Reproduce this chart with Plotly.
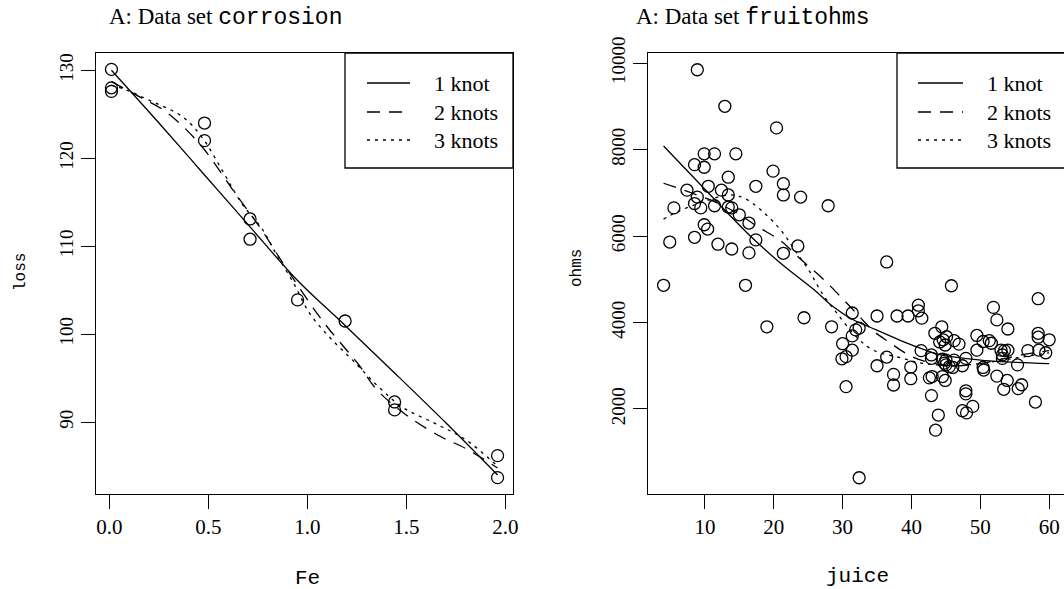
import plotly.graph_objects as go

# ---------------- data: corrosion ----------------
fe = [0.01, 0.48, 0.71, 0.95, 1.19, 0.01, 0.48, 1.44, 0.71, 1.96, 0.01, 1.44, 1.96]
loss = [127.6, 124.0, 110.8, 103.9, 101.5, 130.1, 122.0, 92.3, 113.1, 83.7, 128.0, 91.4, 86.2]

c_fit1_x = [0.01, 0.25, 0.48, 0.71, 0.95, 1.19, 1.44, 1.70, 1.96]
c_fit1_y = [130.0, 124.0, 118.1, 112.2, 106.1, 101.0, 95.6, 89.9, 84.0]
c_fit2_x = [0.01, 0.15, 0.29, 0.46, 0.62, 0.77, 0.89, 1.08, 1.26, 1.35, 1.50, 1.67, 1.80, 1.96]
c_fit2_y = [128.7, 127.0, 125.2, 121.5, 116.5, 111.8, 107.6, 101.4, 96.5, 93.7, 90.8, 88.4, 87.0, 84.8]
c_fit3_x = [0.01, 0.08, 0.20, 0.37, 0.47, 0.57, 0.67, 0.77, 0.84, 0.93, 1.01, 1.11, 1.23, 1.36, 1.48, 1.65, 1.80, 1.96]
c_fit3_y = [128.3, 127.8, 126.6, 124.7, 122.3, 118.6, 114.8, 112.0, 109.2, 105.8, 102.4, 99.7, 97.0, 94.0, 91.7, 89.8, 88.0, 85.0]

# ---------------- data: fruitohms ----------------
juice = [8.9, 12.9, 20.4, 9.9, 11.4, 14.5, 8.5, 9.9, 19.9, 13.4,
         21.4, 10.5, 17.4, 7.4, 12.4, 13.4, 21.4, 23.9, 8.9, 8.5,
         5.5, 9.4, 11.4, 13.4, 13.9, 27.9, 15.0, 16.4, 9.9, 10.4,
         8.5, 4.9, 11.9, 17.4, 23.5, 13.9, 16.4, 21.4, 4.0, 15.9,
         24.4, 19.0, 28.4, 31.4, 31.9, 32.4, 31.4, 30.0, 31.4, 29.9,
         30.5, 30.5, 32.4, 35.0, 35.0, 36.4, 36.4, 37.4, 37.4, 37.9,
         39.5, 39.9, 39.9, 41.0, 41.0, 41.5, 41.4, 42.6, 43.0, 42.9,
         42.9, 42.9, 43.9, 43.5, 43.4, 44.4, 44.1, 44.6, 44.9, 45.1,
         44.5, 45.0, 44.5, 44.9, 45.8, 45.5, 46.2, 46.0, 46.2, 46.9,
         47.9, 47.4, 47.9, 47.9, 47.4, 48.0, 48.9, 49.5, 49.5, 50.4,
         50.4, 50.5, 51.3, 51.6, 51.9, 52.4, 52.4, 53.0, 53.2, 53.2,
         53.5, 54.0, 54.0, 53.4, 53.9, 55.4, 55.5, 56.0, 56.9, 58.0,
         58.4, 58.4, 58.4, 58.5, 59.5, 60.0, 45.0, 44.8]
ohms = [9845, 9000, 8500, 7900, 7900, 7900, 7650, 7590, 7500, 7360,
        7210, 7150, 7150, 7060, 7060, 6950, 6950, 6900, 6900, 6750,
        6650, 6650, 6700, 6670, 6650, 6700, 6490, 6300, 6260, 6160,
        5970, 5860, 5810, 5910, 5770, 5700, 5610, 5600, 4860, 4860,
        4110, 3900, 3900, 4220, 3830, 3870, 3690, 3510, 3360, 3160,
        3210, 2516, 410, 4150, 3000, 3200, 5400, 2800, 2555, 4150,
        4150, 2970, 2700, 4400, 4270, 4100, 3350, 2720, 2750, 3250,
        3170, 2310, 1860, 1510, 3750, 3900, 3550, 3600, 3480, 3670,
        3150, 3020, 2750, 2660, 4850, 2980, 3130, 2960, 3580, 3500,
        3170, 3000, 2420, 2350, 1960, 1910, 2060, 3700, 3360, 3560,
        2960, 2900, 3580, 3520, 4350, 4060, 2760, 3360, 3250, 3170,
        3350, 3360, 3850, 2455, 2660, 3020, 2470, 2560, 3350, 2160,
        4550, 3750, 3660, 3360, 3300, 3600, 3130, 3060]

f_fit1_x = [4, 10, 16.6, 21, 25.9, 28.5, 31.4, 34.9, 40.7, 44.3, 50, 53.7, 60]
f_fit1_y = [8080, 7080, 6000, 5370, 4750, 4380, 4075, 3830, 3440, 3250, 3130, 3090, 3050]
f_fit2_x = [4, 8, 12, 15, 17.6, 21, 24, 27, 30, 32.5, 34.5, 36.8, 39.6, 42, 46, 50, 53, 56, 60]
f_fit2_y = [7220, 7000, 6750, 6500, 6220, 5890, 5450, 5030, 4550, 4130, 3800, 3540, 3250, 3100, 3000, 3050, 3150, 3250, 3350]
f_fit3_x = [4, 6, 9.2, 13.6, 15.8, 18.5, 21.2, 23.3, 25.2, 27, 29, 32, 34.4, 38.7, 41.6, 46, 50, 54, 58, 60]
f_fit3_y = [6390, 6560, 6760, 6950, 6870, 6550, 6100, 5620, 5180, 4680, 4250, 3670, 3364, 3172, 3057, 3000, 3050, 3150, 3250, 3300]

legend_labels = ["1 knot", "2 knots", "3 knots"]
corr_ticks = [0, 0.5, 1.0, 1.5, 2.0]
corr_ticktext = ["0.0", "0.5", "1.0", "1.5", "2.0"]
loss_ticks = [90, 100, 110, 120, 130]
juice_ticks = [10, 20, 30, 40, 50, 60]
ohms_ticks = [2000, 4000, 6000, 8000, 10000]
ohms_ticktext = ["2000", "4000", "6000", "8000", "10000"]

# ---------------- figure ----------------
W, H = 1064, 589
SERIF = "Liberation Serif"
MONO = "Liberation Mono"
LW = 1.3
DASHES = ["solid", "13px,9px", "3px,5px"]


def X(px):
    return px / W


def Y(py):
    return 1 - py / H


fig = go.Figure()

marker = dict(symbol="circle-open", size=12, color="black", line=dict(width=LW, color="black"))
fig.add_trace(go.Scatter(x=fe, y=loss, mode="markers", marker=marker, xaxis="x", yaxis="y", showlegend=False))
for xs, ys, d in [(c_fit1_x, c_fit1_y, DASHES[0]), (c_fit2_x, c_fit2_y, DASHES[1]), (c_fit3_x, c_fit3_y, DASHES[2])]:
    fig.add_trace(go.Scatter(x=xs, y=ys, mode="lines", line=dict(color="black", width=LW, dash=d, shape="spline"),
                             xaxis="x", yaxis="y", showlegend=False))

fig.add_trace(go.Scatter(x=juice, y=ohms, mode="markers", marker=marker, xaxis="x2", yaxis="y2", showlegend=False))
for xs, ys, d in [(f_fit1_x, f_fit1_y, DASHES[0]), (f_fit2_x, f_fit2_y, DASHES[1]), (f_fit3_x, f_fit3_y, DASHES[2])]:
    fig.add_trace(go.Scatter(x=xs, y=ys, mode="lines", line=dict(color="black", width=LW, dash=d, shape="spline"),
                             xaxis="x2", yaxis="y2", showlegend=False))

axis_common = dict(showgrid=False, zeroline=False, showline=True, linecolor="black", linewidth=LW,
                   ticks="outside", ticklen=14, tickwidth=LW, tickcolor="black", automargin=False)
ydom = [Y(494), Y(53)]
TICK_X = 21
TICK_Y = 19

fig.update_layout(
    width=W, height=H, margin=dict(l=0, r=0, t=0, b=0, autoexpand=False),
    paper_bgcolor="white", plot_bgcolor="white", showlegend=False,
    xaxis=dict(domain=[X(96), X(513)], range=[-0.068, 2.038], tickvals=corr_ticks, ticktext=corr_ticktext,
               mirror=True, anchor="y", tickfont=dict(family=SERIF, size=TICK_X, color="black"), **axis_common),
    yaxis=dict(domain=ydom, range=[81.84, 131.96], tickvals=loss_ticks, tickangle=-90, mirror=True, anchor="x",
               tickfont=dict(family=SERIF, size=TICK_Y, color="black"), **axis_common),
    xaxis2=dict(domain=[X(648), 1.0], range=[1.74, 62.15], tickvals=juice_ticks, mirror=True, anchor="y2",
                tickfont=dict(family=SERIF, size=TICK_X, color="black"), **axis_common),
    yaxis2=dict(domain=ydom, range=[34, 10232], tickvals=ohms_ticks, ticktext=ohms_ticktext, tickangle=-90,
                mirror=False, anchor="x2", tickfont=dict(family=SERIF, size=TICK_Y, color="black"), **axis_common),
)

ann = []
ann.append(dict(x=X(107), y=Y(17), xref="paper", yref="paper", xanchor="left", yanchor="middle", showarrow=False,
                text="A: Data set <span style='font-family:Liberation Mono'>corrosion</span>",
                font=dict(family=SERIF, size=23, color="black")))
ann.append(dict(x=X(634), y=Y(17), xref="paper", yref="paper", xanchor="left", yanchor="middle", showarrow=False,
                text="A: Data set <span style='font-family:Liberation Mono'>fruitohms</span>",
                font=dict(family=SERIF, size=23, color="black")))
ann.append(dict(x=X(307), y=Y(578), xref="paper", yref="paper", xanchor="center", yanchor="middle", showarrow=False,
                text="Fe", font=dict(family=MONO, size=21, color="black")))
ann.append(dict(x=X(857), y=Y(576), xref="paper", yref="paper", xanchor="center", yanchor="middle", showarrow=False,
                text="juice", font=dict(family=MONO, size=21, color="black")))
ann.append(dict(x=X(21), y=Y(272), xref="paper", yref="paper", xanchor="center", yanchor="middle", showarrow=False,
                text="loss", textangle=-90, font=dict(family=MONO, size=16, color="black")))
ann.append(dict(x=X(577), y=Y(268), xref="paper", yref="paper", xanchor="center", yanchor="middle", showarrow=False,
                text="ohms", textangle=-90, font=dict(family=MONO, size=16, color="black")))

shapes = []
# legends
for (bx0, bx1, lx0, lx1, tx) in [(345, 513, 367, 410, 432), (897, 1070, 918, 963, 985)]:
    shapes.append(dict(type="rect", xref="paper", yref="paper", x0=X(bx0), x1=X(bx1), y0=Y(168), y1=Y(53),
                       line=dict(color="black", width=LW), fillcolor="white", layer="above"))
    for i, (lab, d) in enumerate(zip(legend_labels, DASHES)):
        ly = [83, 112, 140][i]
        shapes.append(dict(type="line", xref="paper", yref="paper", x0=X(lx0), x1=X(lx1), y0=Y(ly), y1=Y(ly),
                           line=dict(color="black", width=LW, dash=d), layer="above"))
        ann.append(dict(x=X(tx), y=Y(ly), xref="paper", yref="paper", xanchor="left", yanchor="middle",
                        showarrow=False, text=lab, font=dict(family=SERIF, size=22, color="black")))

fig.update_layout(annotations=ann, shapes=shapes)

post = ("document.body.style.margin='0';document.body.style.overflow='hidden';"
        "var gd=document.getElementById('{plot_id}');gd.style.position='absolute';"
        "gd.style.left='0px';gd.style.top='0px';")
fig.write_html("out.html", post_script=post, config={"displayModeBar": False})
